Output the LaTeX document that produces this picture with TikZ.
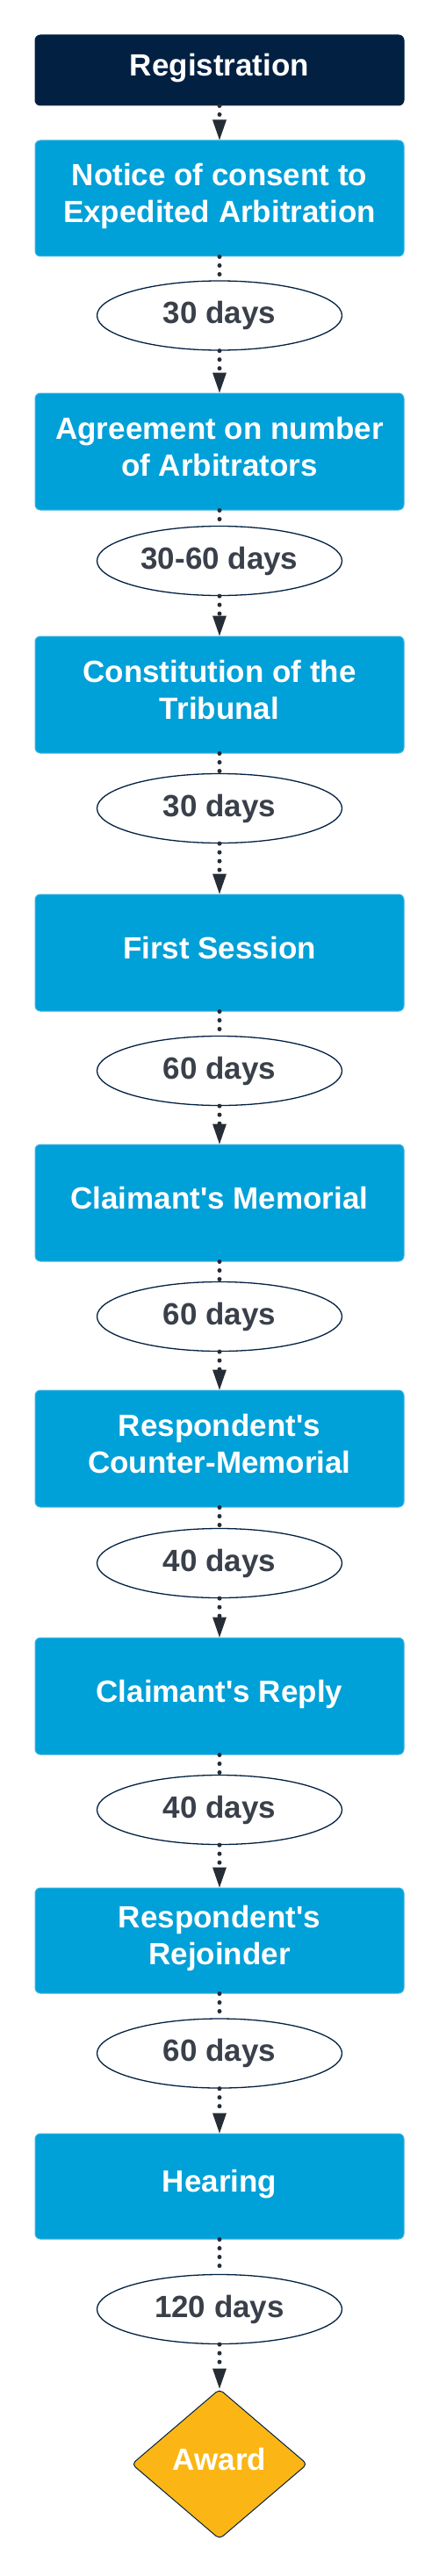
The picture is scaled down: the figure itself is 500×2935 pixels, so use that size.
\documentclass[tikz,border=0pt]{standalone}
\usepackage{fontspec}
\setmainfont{Liberation Sans}
\usetikzlibrary{shapes.geometric,arrows.meta}
\definecolor{navy}{HTML}{022142}
\definecolor{stageblue}{HTML}{00A0D8}
\definecolor{stageedge}{HTML}{3DB3E0}
\definecolor{awardgold}{HTML}{FBB615}
\definecolor{daytext}{HTML}{3A404A}
\definecolor{dotgray}{HTML}{272D36}

\begin{document}
\begin{tikzpicture}[x=1pt,y=-1pt,font=\bfseries\fontsize{35}{42}\selectfont,
    stage/.style={rectangle,rounded corners=6pt,fill=stageblue,draw=stageedge,line width=1pt,text=white,align=center,minimum width=420pt,minimum height=133pt,inner sep=0pt,text depth=12pt},
    shortstage/.style={stage,minimum height=120pt},
    days/.style={ellipse,draw=navy,line width=1.3pt,fill=white,text=daytext,minimum width=279pt,minimum height=79pt,inner sep=0pt},
    award/.style={diamond,rounded corners=5pt,fill=awardgold,draw=navy,line width=1pt,text=white,minimum width=200pt,minimum height=171pt,inner sep=0pt,text depth=12pt},
    dotline/.style={draw=dotgray,line width=5pt,line cap=round,dash pattern=on 0pt off 10pt},
    arrowline/.style={dotline,-{Triangle[length=23pt,width=16pt,line width=0pt]}}]
        \useasboundingbox (0,0) rectangle (500,2935);
        \node (reg) at (250,80) [stage,fill=navy,draw=navy,minimum height=80pt] {Registration};
        \node (notice) at (250,226) [stage,minimum height=132pt] {Notice of consent to \\ Expedited Arbitration};
        \node (d1) at (250,359.5) [days] {30 days};
        \node (agree) at (250,514.5) [stage] {Agreement on number \\ of Arbitrators};
        \node (d2) at (250,639) [days] {30-60 days};
        \node (tribunal) at (250,791.5) [stage] {Constitution of the \\ Tribunal};
        \node (d3) at (250,921) [days] {30 days};
        \node (session) at (250,1085.5) [stage] {First Session};
        \node (d4) at (250,1220) [days] {60 days};
        \node (memorial) at (250,1370.5) [stage] {Claimant\textquotesingle s Memorial};
        \node (d5) at (250,1500) [days] {60 days};
        \node (counter) at (250,1650.5) [stage] {Respondent\textquotesingle s \\ Counter-Memorial};
        \node (d6) at (250,1781) [days] {40 days};
        \node (reply) at (250,1932.5) [stage] {Claimant\textquotesingle s Reply};
        \node (d7) at (250,2062) [days] {40 days};
        \node (rejoinder) at (250,2211) [shortstage] {Respondent\textquotesingle s \\ Rejoinder};
        \node (d8) at (250,2339.5) [days] {60 days};
        \node (hearing) at (250,2491) [shortstage] {Hearing};
        \node (d9) at (250,2631) [days] {120 days};
        \node (award) at (250,2807.5) [award] {Award};
        \draw [arrowline] (reg.south) -- (notice.north);
        \draw [dotline] (notice.south) -- (d1.north);
        \draw [arrowline] (d1.south) -- (agree.north);
        \draw [dotline] (agree.south) -- (d2.north);
        \draw [arrowline] (d2.south) -- (tribunal.north);
        \draw [dotline] (tribunal.south) -- (d3.north);
        \draw [arrowline] (d3.south) -- (session.north);
        \draw [dotline] (session.south) -- (d4.north);
        \draw [arrowline] (d4.south) -- (memorial.north);
        \draw [dotline] (memorial.south) -- (d5.north);
        \draw [arrowline] (d5.south) -- (counter.north);
        \draw [dotline] (counter.south) -- (d6.north);
        \draw [arrowline] (d6.south) -- (reply.north);
        \draw [dotline] (reply.south) -- (d7.north);
        \draw [arrowline] (d7.south) -- (rejoinder.north);
        \draw [dotline] (rejoinder.south) -- (d8.north);
        \draw [arrowline] (d8.south) -- (hearing.north);
        \draw [dotline] (hearing.south) -- (d9.north);
        \draw [arrowline] (d9.south) -- (award.north);
      \end{tikzpicture}
\end{document}
